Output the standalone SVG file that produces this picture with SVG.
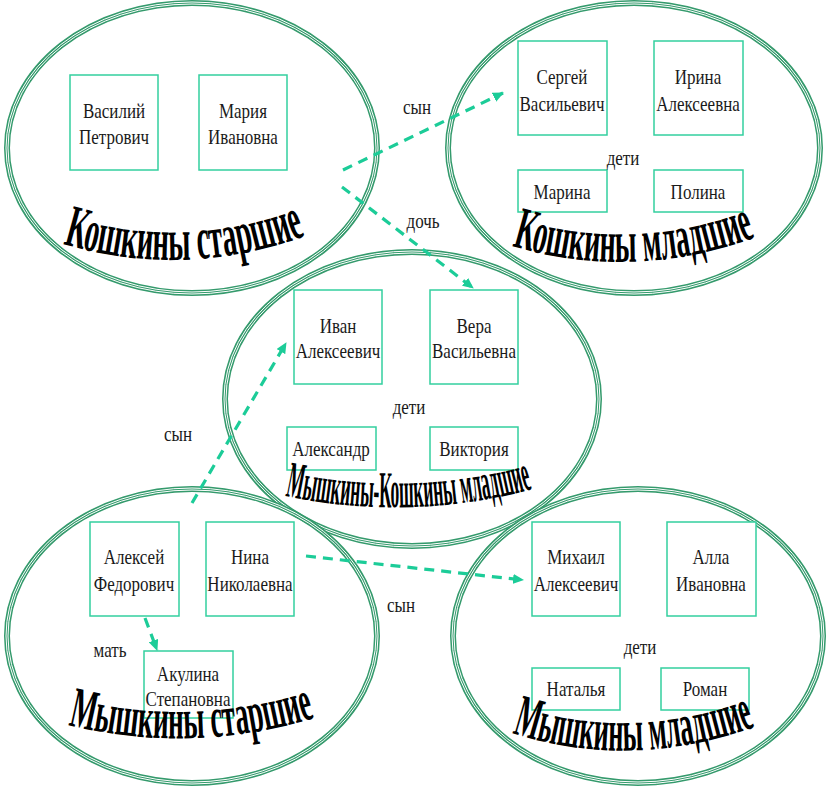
<svg xmlns="http://www.w3.org/2000/svg" xmlns:xlink="http://www.w3.org/1999/xlink" width="827" height="788" viewBox="0 0 827 788">
<style>
.ring{fill:none;stroke:#349a6c;stroke-width:6}
.gap{fill:none;stroke:#fff;stroke-width:1}
.box{fill:#fff;stroke:#33cf9f;stroke-width:1.5}
.t{font-family:"Liberation Serif","Times New Roman",serif;font-size:17px;fill:#1a1a1a;text-anchor:middle}
.title{font-family:"Liberation Serif","Times New Roman",serif;font-weight:bold;fill:#000}
.arr{fill:none;stroke:#1ccc98;stroke-width:3.2;stroke-dasharray:10 7}
</style>
<defs>
<marker id="ah" markerWidth="11" markerHeight="10" refX="10" refY="5" orient="auto" markerUnits="userSpaceOnUse">
<path d="M0,0 L11,5 L0,10 z" fill="#1ccc98"/>
</marker>
<path id="p1" d="M63,244 Q185,280 308,235"/>
<path id="p2" d="M512,246 Q633,282 757,237"/>
<path id="p3" d="M285,496 Q410,522 533,489"/>
<path id="p4" d="M68,725 Q190,755 315,718"/>
<path id="p5" d="M512,733 Q630,771 755,727"/>
</defs>

<g id="ellipses">
<g id="e1"><ellipse class="ring" cx="192" cy="148" rx="185" ry="145"/><ellipse class="gap" cx="192" cy="148" rx="184" ry="144"/><ellipse class="gap" cx="192" cy="148" rx="186" ry="146"/></g>
<g id="e2"><ellipse class="ring" cx="634" cy="148" rx="186" ry="145"/><ellipse class="gap" cx="634" cy="148" rx="185" ry="144"/><ellipse class="gap" cx="634" cy="148" rx="187" ry="146"/></g>
<g id="e3"><ellipse class="ring" cx="412" cy="399" rx="187" ry="147"/><ellipse class="gap" cx="412" cy="399" rx="186" ry="146"/><ellipse class="gap" cx="412" cy="399" rx="188" ry="148"/></g>
<g id="e4"><ellipse class="ring" cx="192" cy="636" rx="185" ry="147"/><ellipse class="gap" cx="192" cy="636" rx="184" ry="146"/><ellipse class="gap" cx="192" cy="636" rx="186" ry="148"/></g>
<g id="e5"><ellipse class="ring" cx="638" cy="636" rx="185" ry="147"/><ellipse class="gap" cx="638" cy="636" rx="184" ry="146"/><ellipse class="gap" cx="638" cy="636" rx="186" ry="148"/></g>
</g>

<g id="boxes">
<g id="vasiliy"><rect class="box" x="70" y="75" width="88" height="95"/></g>
<g id="maria"><rect class="box" x="199" y="75" width="88" height="95"/></g>
<g id="sergey"><rect class="box" x="518" y="41" width="89" height="94"/></g>
<g id="irina"><rect class="box" x="654" y="41" width="89" height="94"/></g>
<g id="marina"><rect class="box" x="518" y="170" width="89" height="42"/></g>
<g id="polina"><rect class="box" x="654" y="170" width="89" height="42"/></g>
<g id="ivan"><rect class="box" x="294" y="290" width="88" height="94"/></g>
<g id="vera"><rect class="box" x="430" y="290" width="88" height="94"/></g>
<g id="aleksandr"><rect class="box" x="287" y="427" width="89" height="43"/></g>
<g id="viktoria"><rect class="box" x="430" y="427" width="88" height="43"/></g>
<g id="aleksey"><rect class="box" x="90" y="522" width="89" height="94"/></g>
<g id="nina"><rect class="box" x="206" y="522" width="88" height="94"/></g>
<g id="akulina"><rect class="box" x="144" y="651" width="89" height="67"/></g>
<g id="mikhail"><rect class="box" x="532" y="522" width="88" height="94"/></g>
<g id="alla"><rect class="box" x="667" y="522" width="89" height="94"/></g>
<g id="natalya"><rect class="box" x="532" y="668" width="88" height="42"/></g>
<g id="roman"><rect class="box" x="661" y="668" width="88" height="42"/></g>
</g>

<g id="labels" transform="scale(1,1.2)">
<text class="t" x="114" y="98.7">Василий</text><text class="t" x="114" y="119.6">Петрович</text>
<text class="t" x="243" y="98.7">Мария</text><text class="t" x="243" y="119.6">Ивановна</text>
<text class="t" x="562" y="69.6">Сергей</text><text class="t" x="562" y="92.1">Васильевич</text>
<text class="t" x="698" y="69.6">Ирина</text><text class="t" x="698" y="92.1">Алексеевна</text>
<text class="t" x="623" y="137.9">дети</text>
<text class="t" x="562" y="166.2">Марина</text><text class="t" x="698" y="166.2">Полина</text>
<text class="t" x="338" y="277.1">Иван</text><text class="t" x="338" y="298.7">Алексеевич</text>
<text class="t" x="474" y="277.1">Вера</text><text class="t" x="474" y="298.7">Васильевна</text>
<text class="t" x="409" y="345.4">дети</text>
<text class="t" x="331" y="380.4">Александр</text><text class="t" x="474" y="380.4">Виктория</text>
<text class="t" x="134" y="470.4">Алексей</text><text class="t" x="134" y="492.1">Федорович</text>
<text class="t" x="250" y="470.4">Нина</text><text class="t" x="250" y="492.1">Николаевна</text>
<text class="t" x="188" y="567.1">Акулина</text><text class="t" x="188" y="588.7">Степановна</text>
<text class="t" x="110" y="547.1">мать</text>
<text class="t" x="576" y="469.6">Михаил</text><text class="t" x="576" y="492.1">Алексеевич</text>
<text class="t" x="711" y="469.6">Алла</text><text class="t" x="711" y="492.1">Ивановна</text>
<text class="t" x="640" y="545.4">дети</text>
<text class="t" x="576" y="580.4">Наталья</text><text class="t" x="705" y="580.4">Роман</text>
<text class="t" x="417" y="95.4">сын</text>
<text class="t" x="423" y="189.6">дочь</text>
<text class="t" x="178" y="367.9">сын</text>
<text class="t" x="401" y="510.4">сын</text>
</g>

<g id="titles">
<text class="title" font-size="60"><textPath xlink:href="#p1" href="#p1" textLength="247" lengthAdjust="spacingAndGlyphs">Кошкины старшие</textPath></text>
<text class="title" font-size="60"><textPath xlink:href="#p2" href="#p2" textLength="248" lengthAdjust="spacingAndGlyphs">Кошкины младшие</textPath></text>
<text class="title" font-size="52"><textPath xlink:href="#p3" href="#p3" textLength="250" lengthAdjust="spacingAndGlyphs">Мышкины-Кошкины младшие</textPath></text>
<text class="title" font-size="58"><textPath xlink:href="#p4" href="#p4" textLength="250" lengthAdjust="spacingAndGlyphs">Мышкины старшие</textPath></text>
<text class="title" font-size="60"><textPath xlink:href="#p5" href="#p5" textLength="248" lengthAdjust="spacingAndGlyphs">Мышкины младшие</textPath></text>
</g>

<g id="connectors">
<path class="arr" d="M343,170 L503,93" marker-end="url(#ah)"/>
<path class="arr" d="M342,187 L473,288" marker-end="url(#ah)"/>
<path class="arr" d="M192,503 L286,343" marker-end="url(#ah)"/>
<path class="arr" d="M306,556 L523,580" marker-end="url(#ah)"/>
<path class="arr" d="M145,618 L157,650" marker-end="url(#ah)"/>
</g>
</svg>
